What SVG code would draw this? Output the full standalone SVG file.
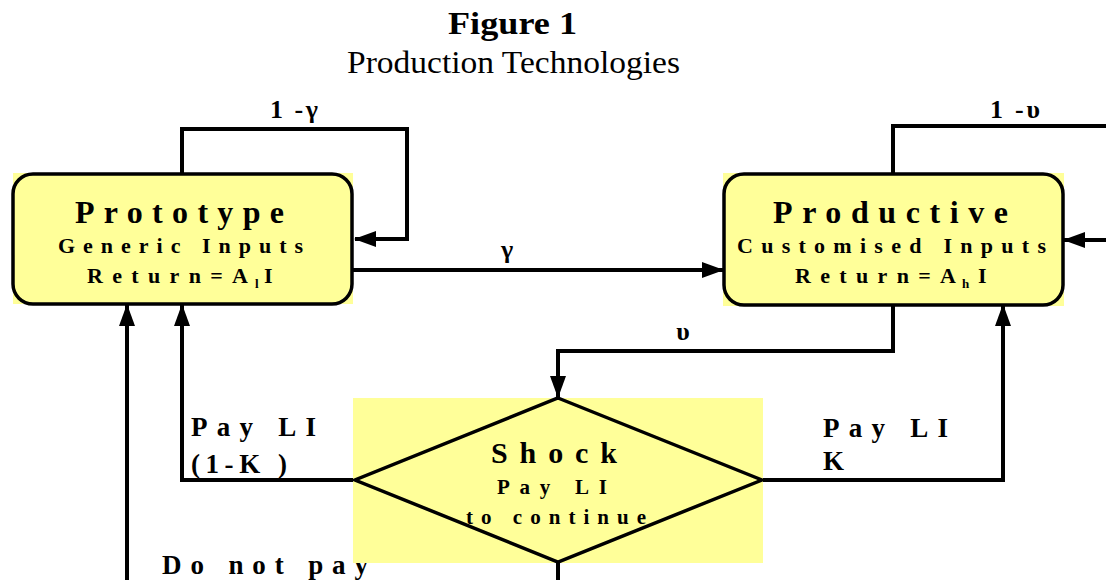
<svg xmlns="http://www.w3.org/2000/svg" width="1106" height="580" viewBox="0 0 1106 580">
<style>
.bg{fill:#ffff99;stroke:none}
.box{fill:#ffff99;stroke:#000;stroke-width:3.5}
.conn{fill:none;stroke:#000;stroke-width:4}
.t{font-family:"Liberation Serif","Times New Roman",serif;font-weight:bold;fill:#000}
.title{font-family:"Liberation Serif","Times New Roman",serif;fill:#000}
</style>
<defs>
<marker id="ah" markerUnits="userSpaceOnUse" markerWidth="22" markerHeight="16" refX="21" refY="8" orient="auto">
<path d="M0,0 L22,8 L0,16 z" fill="#000"/>
</marker>
</defs>
<rect width="1106" height="580" fill="#fff"/>
<g id="title">
<text class="title" x="448" y="34" font-size="31" font-weight="bold" textLength="129" lengthAdjust="spacingAndGlyphs">Figure 1</text>
<text class="title" x="347" y="73" font-size="32" textLength="333" lengthAdjust="spacingAndGlyphs">Production Technologies</text>
</g>
<g id="connectors">
<path class="conn" d="M182,173 V129 H407 V239 H355" marker-end="url(#ah)"/>
<path class="conn" d="M352,270 H723" marker-end="url(#ah)"/>
<path class="conn" d="M893,173 V126 H1106"/>
<path class="conn" d="M1106,240 H1064" marker-end="url(#ah)"/>
<path class="conn" d="M893,305 V351 H558 V397" marker-end="url(#ah)"/>
<path class="conn" d="M355,480 H182 V305" marker-end="url(#ah)"/>
<path class="conn" d="M763,480 H1003 V305" marker-end="url(#ah)"/>
<path class="conn" d="M127,580 V305" marker-end="url(#ah)"/>
<path class="conn" d="M558,562 V580"/>
<text class="t" x="270" y="118" font-size="26" textLength="48" lengthAdjust="spacing">1 -γ</text>
<text class="t" x="990" y="118" font-size="26" textLength="50" lengthAdjust="spacing">1 -υ</text>
<text class="t" x="507" y="258" font-size="26" text-anchor="middle">γ</text>
<text class="t" x="683" y="340" font-size="26" text-anchor="middle">υ</text>
<text class="t" x="191" y="436" font-size="27" textLength="125" lengthAdjust="spacing">Pay LI</text>
<text class="t" x="191" y="473" font-size="27" textLength="96" lengthAdjust="spacing">(1-K )</text>
<text class="t" x="162" y="574" font-size="27" textLength="206" lengthAdjust="spacing">Do not pay</text>
<text class="t" x="823" y="437" font-size="27" textLength="125" lengthAdjust="spacing">Pay LI</text>
<text class="t" x="823" y="470" font-size="27">K</text>
</g>
<g id="prototype">
<rect class="bg" x="13" y="173" width="340" height="131"/>
<rect class="box" x="13" y="174" width="339" height="130" rx="20" ry="20"/>
<text class="t" x="75" y="223" font-size="32" textLength="209" lengthAdjust="spacing">Prototype</text>
<text class="t" x="58" y="253" font-size="22" textLength="245" lengthAdjust="spacing">Generic Inputs</text>
<text class="t" x="87" y="283" font-size="22" textLength="161" lengthAdjust="spacing">Return=A</text>
<text class="t" x="255" y="288" font-size="13">l</text>
<text class="t" x="264" y="283" font-size="22">I</text>
</g>
<g id="productive">
<rect class="bg" x="723" y="173" width="341" height="133"/>
<rect class="box" x="724" y="174" width="339" height="131" rx="20" ry="20"/>
<text class="t" x="773" y="223" font-size="32" textLength="235" lengthAdjust="spacing">Productive</text>
<text class="t" x="737" y="253" font-size="22" textLength="309" lengthAdjust="spacing">Customised Inputs</text>
<text class="t" x="795" y="283" font-size="22" textLength="161" lengthAdjust="spacing">Return=A</text>
<text class="t" x="962" y="288" font-size="13">h</text>
<text class="t" x="978" y="283" font-size="22">I</text>
</g>
<g id="shock">
<rect class="bg" x="353" y="398" width="410" height="165"/>
<polygon points="558,398 762,480 558,562 355,480" fill="#ffff99" stroke="#000" stroke-width="3.5"/>
<text class="t" x="491" y="463" font-size="30" textLength="126" lengthAdjust="spacing">Shock</text>
<text class="t" x="497" y="494" font-size="21" textLength="110" lengthAdjust="spacing">Pay LI</text>
<text class="t" x="466" y="524" font-size="21" textLength="180" lengthAdjust="spacing">to continue</text>
</g>
</svg>
